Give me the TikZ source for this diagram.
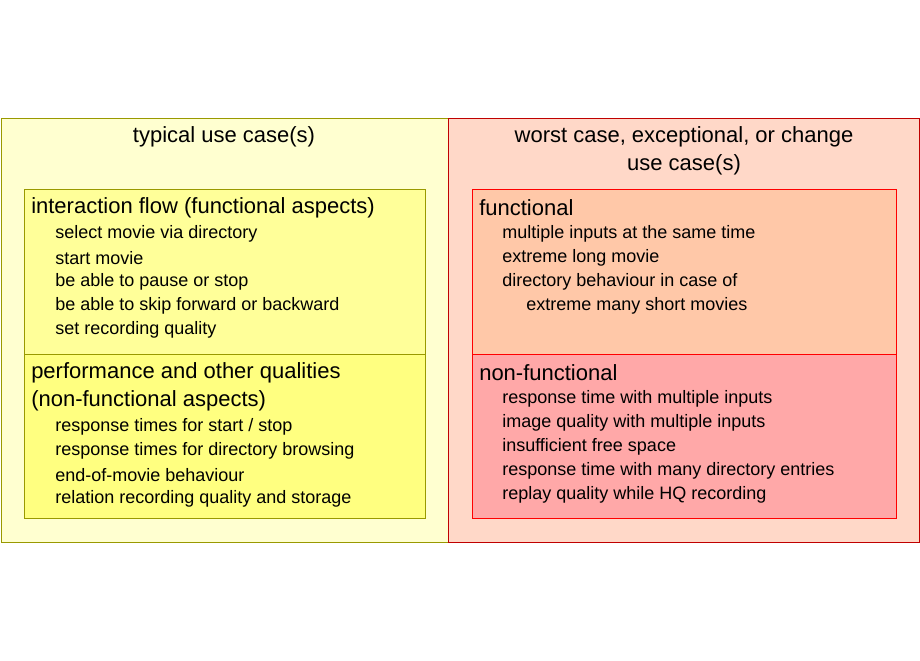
\documentclass[tikz,border=0pt]{standalone}
\usepackage{fontspec}
\setmainfont{Liberation Sans}
\usetikzlibrary{positioning}

\definecolor{typbg}{HTML}{FFFFD0}
\definecolor{typline}{HTML}{999900}
\definecolor{flowbg}{HTML}{FFFF99}
\definecolor{perfbg}{HTML}{FFFF80}
\definecolor{worstbg}{HTML}{FFD8C8}
\definecolor{worstline}{HTML}{C00000}
\definecolor{funcbg}{HTML}{FFC8A8}
\definecolor{nfuncbg}{HTML}{FFA8A8}

\begin{document}
\begin{tikzpicture}[x=0.75pt,y=-0.75pt,
            head/.style={anchor=west, inner sep=0pt, font=\fontsize{16.5}{19}\selectfont},
            item/.style={anchor=west, inner sep=0pt, font=\fontsize{13.5}{16}\selectfont},
            title/.style={align=center, inner sep=0pt, font=\fontsize{16.5}{21}\selectfont}
        ]

        \useasboundingbox (0,0) rectangle (920,660);

        % outer columns
        \draw[typline, fill=typbg] (1,118) rectangle (448,542);
        \draw[worstline, fill=worstbg] (448,118) rectangle (919,542);

        \node[title] (typtitle) at (224,137) {typical use case(s)};
        \node[title] (worsttitle) at (684,151) {worst case, exceptional, or change\\use case(s)};

        % inner boxes
        \draw[typline, fill=flowbg] (24,189) rectangle (425,354);
        \draw[typline, fill=perfbg] (24,354) rectangle (425,518);
        \draw[red, fill=funcbg] (472,189) rectangle (896,354);
        \draw[red, fill=nfuncbg] (472,354) rectangle (896,518);

        % interaction flow
        \node[head] (flow) at (31,208) {interaction flow (functional aspects)};
        \node[item] (flow1) at (55,234) {select movie via directory};
        \node[item] (flow2) at (55,258) {start movie};
        \node[item] (flow3) at (55,282) {be able to pause or stop};
        \node[item] (flow4) at (55,306) {be able to skip forward or backward};
        \node[item] (flow5) at (55,330) {set recording quality};

        % performance
        \node[head] (perf) at (31,373) {performance and other qualities};
        \node[head] (perfb) at (31,401) {(non-functional aspects)};
        \node[item] (perf1) at (55,427) {response times for start / stop};
        \node[item] (perf2) at (55,451) {response times for directory browsing};
        \node[item] (perf3) at (55,475) {end-of-movie behaviour};
        \node[item] (perf4) at (55,499) {relation recording quality and storage};

        % functional
        \node[head] (func) at (479,208) {functional};
        \node[item] (func1) at (502,234) {multiple inputs at the same time};
        \node[item] (func2) at (502,258) {extreme long movie};
        \node[item] (func3) at (502,282) {directory behaviour in case of};
        \node[item] (func4) at (526,306) {extreme many short movies};

        % non-functional
        \node[head] (nfunc) at (479,373) {non-functional};
        \node[item] (nfunc1) at (502,399) {response time with multiple inputs};
        \node[item] (nfunc2) at (502,423) {image quality with multiple inputs};
        \node[item] (nfunc3) at (502,447) {insufficient free space};
        \node[item] (nfunc4) at (502,471) {response time with many directory entries};
        \node[item] (nfunc5) at (502,495) {replay quality while HQ recording};

    \end{tikzpicture}
\end{document}
